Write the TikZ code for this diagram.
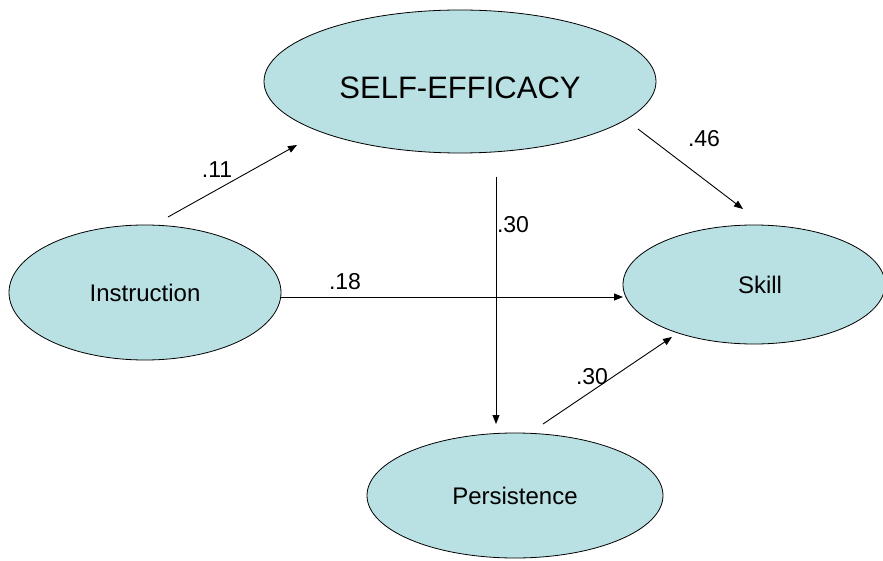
\documentclass[tikz,border=0pt]{standalone}
\usepackage{fontspec}
\setmainfont{Liberation Sans}
\usetikzlibrary{shapes.geometric,arrows.meta}
\definecolor{nodefill}{RGB}{185,224,227}
\begin{document}
\begin{tikzpicture}[x=1pt,y=-1pt,
  var/.style={ellipse,draw=black,line width=0.8pt,fill=nodefill,inner sep=0pt,font=\fontsize{24}{28}\selectfont},
  path/.style={line width=0.9pt,-{Triangle[length=9pt,width=7pt]}},
  coef/.style={inner sep=0pt,font=\fontsize{23}{27}\selectfont}]
\useasboundingbox (0,0) rectangle (883,561);
\node[var,minimum width=392pt,minimum height=143pt,text height=34pt,text depth=0pt,font=\fontsize{31}{36}\selectfont] (se) at (460,81.5) {SELF-EFFICACY};
\node[var,minimum width=272pt,minimum height=135pt] (ins) at (145,292.5) {Instruction};
\node[var,minimum width=262pt,minimum height=119pt] (sk) at (754,284.5) {\hspace{12pt}Skill};
\node[var,minimum width=296pt,minimum height=125pt] (per) at (515,495.5) {Persistence};
% connector end points
\coordinate (a1) at (168,217); \coordinate (b1) at (297,145);
\coordinate (a2) at (638,129); \coordinate (b2) at (743,209);
\coordinate (a3) at (496,177); \coordinate (b3) at (496,424);
\coordinate (a4) at (281,297); \coordinate (b4) at (623,297);
\coordinate (a5) at (543,424); \coordinate (b5) at (672,337);
\draw[path] (a1) -- (b1);
\draw[path] (a2) -- (b2);
\draw[path] (a3) -- (b3);
\draw[path] (a4) -- (b4);
\draw[path] (a5) -- (b5);
\node[coef] (l11) at (217,170) {.11};
\node[coef] (l46) at (704,139) {.46};
\node[coef] (l30a) at (513,225) {.30};
\node[coef] (l18) at (345,282) {.18};
\node[coef] (l30b) at (592,377) {.30};
\end{tikzpicture}
\end{document}
